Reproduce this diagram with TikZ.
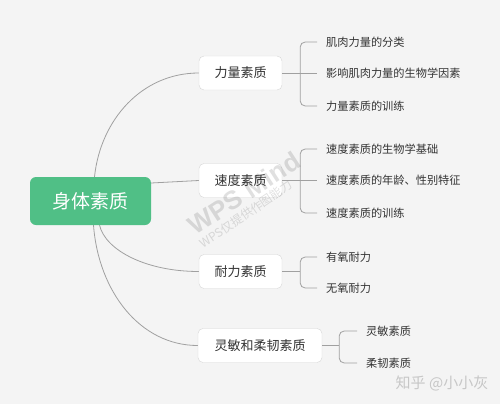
\documentclass[tikz,border=0pt]{standalone}
\usepackage{fontspec}
\newfontfamily\cjk{Noto Sans CJK SC}
\newfontfamily\wpsfont{Liberation Sans}
\usepackage{tikz}
\usetikzlibrary{backgrounds}
\definecolor{mind_green}{RGB}{80,191,134}
\definecolor{mind_bg}{RGB}{244,244,244}
\definecolor{mind_line}{RGB}{160,160,160}
\definecolor{mind_border}{RGB}{214,214,214}
\definecolor{mind_text}{RGB}{51,51,51}

\begin{document}
\begin{tikzpicture}[x=1pt, y=-1pt, font=\cjk,
  topic/.style={draw=mind_border, fill=white, rounded corners=5pt, minimum height=34pt,
    inner sep=0pt, text=mind_text, font=\cjk\fontsize{13}{15}\selectfont},
  leaf/.style={anchor=west, inner sep=0pt, text=mind_text, font=\cjk\fontsize{11.2}{13}\selectfont},
  link/.style={mind_line, line width=0.8pt},
  bracket/.style={link, rounded corners=5pt}]
        \node[fill=mind_green, rounded corners=6pt, minimum width=121pt, minimum height=48pt,
          text=white, font=\cjk\fontsize{19}{21}\selectfont] (root) at (90.5,201) {身体素质};
        \node[topic, minimum width=83pt] (liliang) at (240.5,73) {力量素质};
        \node[topic, minimum width=83pt] (sudu) at (240.5,180.5) {速度素质};
        \node[topic, minimum width=83pt] (naili) at (240.5,271.5) {耐力素质};
        \node[topic, minimum width=124pt] (lingmin) at (260,345.5) {灵敏和柔韧素质};
        \node[leaf] (ll1) at (326,42) {肌肉力量的分类};
        \node[leaf] (ll2) at (326,73) {影响肌肉力量的生物学因素};
        \node[leaf] (ll3) at (326,106) {力量素质的训练};
        \node[leaf] (sd1) at (326,149) {速度素质的生物学基础};
        \node[leaf] (sd2) at (326,180.5) {速度素质的年龄、性别特征};
        \node[leaf] (sd3) at (326,213) {速度素质的训练};
        \node[leaf] (nl1) at (326,257) {有氧耐力};
        \node[leaf] (nl2) at (326,288) {无氧耐力};
        \node[leaf] (lm1) at (366,331) {灵敏素质};
        \node[leaf] (lm2) at (366,363) {柔韧素质};
        \draw[link] (liliang.east) -- ([xshift=-9pt]ll2.west);
        \draw[bracket] ([xshift=-9pt]ll1.west) -| ([xshift=18pt]liliang.east) |- ([xshift=-9pt]ll3.west);
        \draw[link] (sudu.east) -- ([xshift=-9pt]sd2.west);
        \draw[bracket] ([xshift=-9pt]sd1.west) -| ([xshift=18pt]sudu.east) |- ([xshift=-9pt]sd3.west);
        \draw[link] (naili.east) -- ([xshift=18pt]naili.east);
        \draw[bracket] ([xshift=-9pt]nl1.west) -| ([xshift=18pt]naili.east) |- ([xshift=-9pt]nl2.west);
        \draw[link] (lingmin.east) -- ([xshift=17pt]lingmin.east);
        \draw[bracket] ([xshift=-9pt]lm1.west) -| ([xshift=17pt]lingmin.east) |- ([xshift=-9pt]lm2.west);
        \node[rotate=33, text=black, opacity=0.12, font=\wpsfont\bfseries\fontsize{26}{28}\selectfont]
          (wpsmind) at (244,193) {WPS Mind};
        \node[rotate=34, text=black, opacity=0.12, font=\cjk\fontsize{12}{14}\selectfont]
          (wpstip) at (246,214) {WPS仅提供作图能力};
        \node[text=black!22, font=\cjk\fontsize{15}{17}\selectfont] (zhihu) at (442,383) {知乎 @小小灰};
        \begin{scope}[on background layer]
          \fill[mind_bg] (0,0) rectangle (500,404);
          \draw[link] ([xshift=4pt]root.north) .. controls +(6,-57) and +(-57,0) .. (liliang.west);
          \draw[link] ([yshift=18pt]root.east) -- (sudu.west);
          \draw[link] ([xshift=9pt]root.south) .. controls +(6,25) and +(-53,0) .. (naili.west);
          \draw[link] ([xshift=3pt]root.south) .. controls +(5,66) and +(-58,0) .. (lingmin.west);
        \end{scope}
      \end{tikzpicture}
\end{document}
